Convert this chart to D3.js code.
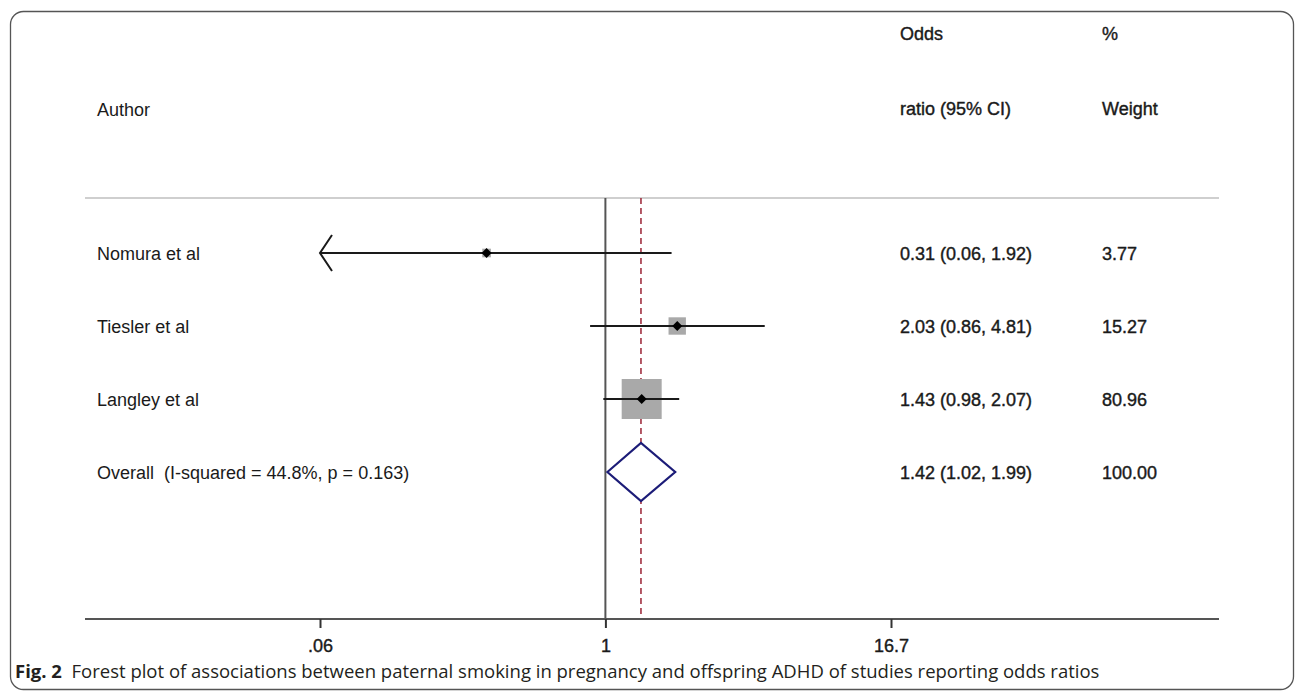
<!DOCTYPE html>
<html>
<head>
<meta charset="utf-8">
<script src="https://cdn.jsdelivr.net/npm/d3@7"></script>
<style>
  html, body { margin: 0; padding: 0; background: #fff; }
  svg { display: block; }
</style>
</head>
<body>
<div id="chart"></div>
<script>
// study rows
const studies = ["Nomura et al", "Tiesler et al", "Langley et al"];
const estimates = [0.31, 2.03, 1.43];
const lowerCI = [0.06, 0.86, 0.98];
const upperCI = [1.92, 4.81, 2.07];
const weights = [3.77, 15.27, 80.96];
const ciLabels = ["0.31 (0.06, 1.92)", "2.03 (0.86, 4.81)", "1.43 (0.98, 2.07)"];
const weightLabels = ["3.77", "15.27", "80.96"];

// pooled estimate
const overallLabel = "Overall  (I-squared = 44.8%, p = 0.163)";
const overall = { est: 1.42, lo: 1.02, hi: 1.99 };
const overallCI = "1.42 (1.02, 1.99)";
const overallWeight = "100.00";

// axis
const tickValues = [0.06, 1, 16.7];
const tickLabels = [".06", "1", "16.7"];

const W = 1295, H = 691;
const font = "'Liberation Sans', Arial, Helvetica, sans-serif";
const ink = "#1a1a1a";

const svg = d3.select("#chart").append("svg")
  .attr("width", W)
  .attr("height", H);

// outer frame
svg.append("rect")
  .attr("x", 10.5).attr("y", 11.5)
  .attr("width", 1283).attr("height", 678)
  .attr("rx", 13)
  .attr("fill", "none")
  .attr("stroke", "#555")
  .attr("stroke-width", 1.3);

//scales
const x = d3.scaleLog().domain([0.06, 16.7]).range([320, 891]);
const y = d3.scaleLinear().domain([0, 5]).range([253, 618]);
const boxSize = d3.scaleSqrt().domain([0, d3.max(weights)]).range([0, 40]);

const plotTop = 198, axisY = 619;
const textCol = 97, ciCol = 900, wCol = 1102;

// header
const header = svg.append("g").attr("font-family", font).attr("font-size", 18).attr("fill", ink);
header.append("text").attr("x", textCol).attr("y", 116).text("Author");
header.append("text").attr("x", ciCol).attr("y", 40).text("Odds").attr("stroke", ink).attr("stroke-width", 0.4);
header.append("text").attr("x", ciCol).attr("y", 115).text("ratio (95% CI)").attr("stroke", ink).attr("stroke-width", 0.4);
header.append("text").attr("x", wCol).attr("y", 40).text("%").attr("stroke", ink).attr("stroke-width", 0.4);
header.append("text").attr("x", wCol).attr("y", 115).text("Weight").attr("stroke", ink).attr("stroke-width", 0.4);

// top rule
svg.append("line")
  .attr("x1", 85).attr("x2", 1219)
  .attr("y1", plotTop).attr("y2", plotTop)
  .attr("stroke", "#cfcfcf")
  .attr("stroke-width", 2);

// no-effect line
svg.append("line")
  .attr("x1", x(1)).attr("x2", x(1))
  .attr("y1", plotTop).attr("y2", axisY)
  .attr("stroke", "#555")
  .attr("stroke-width", 2);

// overall estimate line
svg.append("line")
  .attr("x1", x(overall.est)).attr("x2", x(overall.est))
  .attr("y1", plotTop).attr("y2", axisY)
  .attr("stroke", "#9b2335")
  .attr("stroke-width", 1.5)
  .attr("stroke-dasharray", "6,4");

const rows = studies.map((name, i) => ({
  name: name, est: estimates[i], lo: lowerCI[i], hi: upperCI[i],
  w: weights[i], ci: ciLabels[i], wl: weightLabels[i], i: i
}));

const row = svg.append("g").selectAll("g")
  .data(rows)
  .join("g")
  .attr("transform", d => `translate(0,${y(d.i)})`);

// weight boxes
row.append("rect")
  .attr("x", d => x(d.est) - boxSize(d.w) / 2)
  .attr("y", d => -boxSize(d.w) / 2)
  .attr("width", d => boxSize(d.w))
  .attr("height", d => boxSize(d.w))
  .attr("fill", "#a9a9a9");

// CI lines (clipped to axis range)
row.append("line")
  .attr("x1", d => x(Math.max(d.lo, x.domain()[0])))
  .attr("x2", d => x(Math.min(d.hi, x.domain()[1])))
  .attr("y1", 0).attr("y2", 0)
  .attr("stroke", "#1a1a1a")
  .attr("stroke-width", 2.2);

// arrow where CI reaches the edge
row.filter(d => d.lo <= x.domain()[0])
  .append("path")
  .attr("d", d => {
    const ax = x(x.domain()[0]);
    return `M${ax + 12},-18 L${ax},0 L${ax + 12},18`;
  })
  .attr("fill", "none")
  .attr("stroke", "#1a1a1a")
  .attr("stroke-width", 2);

// point estimate marker
row.append("path")
  .attr("d", d => {
    const cx = x(d.est), r = 5;
    return `M${cx - r},0 L${cx},${-r} L${cx + r},0 L${cx},${r} Z`;
  })
  .attr("fill", "#000");

row.append("text")
  .attr("x", textCol).attr("y", 7)
  .attr("font-family", font).attr("font-size", 18).attr("fill", ink)
  .text(d => d.name);

row.append("text")
  .attr("x", ciCol).attr("y", 7)
  .attr("font-family", font).attr("font-size", 18).attr("fill", ink)
  .attr("stroke", ink).attr("stroke-width", 0.4)
  .text(d => d.ci);

row.append("text")
  .attr("x", wCol).attr("y", 7)
  .attr("font-family", font).attr("font-size", 18).attr("fill", ink)
  .attr("stroke", ink).attr("stroke-width", 0.4)
  .text(d => d.wl);

// overall row
const oy = y(studies.length);
svg.append("path")
  .attr("d", `M${x(overall.lo)},${oy} L${x(overall.est)},${oy - 29} L${x(overall.hi)},${oy} L${x(overall.est)},${oy + 29} Z`)
  .attr("fill", "#fff")
  .attr("stroke", "#1c1c78")
  .attr("stroke-width", 2.2);

const og = svg.append("g").attr("font-family", font).attr("font-size", 18).attr("fill", ink);
og.append("text").attr("x", textCol).attr("y", oy + 7).attr("xml:space", "preserve").style("white-space", "pre").text(overallLabel);
og.append("text").attr("x", ciCol).attr("y", oy + 7).attr("stroke", ink).attr("stroke-width", 0.4).text(overallCI);
og.append("text").attr("x", wCol).attr("y", oy + 7).attr("stroke", ink).attr("stroke-width", 0.4).text(overallWeight);

// x axis
svg.append("line")
  .attr("x1", 85).attr("x2", 1219)
  .attr("y1", axisY).attr("y2", axisY)
  .attr("stroke", "#555")
  .attr("stroke-width", 2);

const axis = svg.append("g")
  .attr("transform", `translate(0,${axisY})`)
  .call(d3.axisBottom(x)
    .tickValues(tickValues)
    .tickFormat((d, i) => tickLabels[i])
    .tickSize(9)
    .tickPadding(11));

axis.select(".domain").remove();
axis.selectAll(".tick line").attr("stroke", "#333").attr("stroke-width", 2);
axis.selectAll(".tick text")
  .attr("font-family", font)
  .attr("font-size", 18)
  .attr("fill", ink)
  .attr("stroke", ink)
  .attr("stroke-width", 0.4);

// caption
const cap = svg.append("text")
  .attr("x", 15).attr("y", 678)
  .attr("font-family", "'Open Sans', 'Noto Sans', sans-serif")
  .attr("font-size", 18.5)
  .attr("fill", "#231f20")
  .attr("xml:space", "preserve")
  .style("white-space", "pre");
cap.append("tspan").attr("font-weight", "bold").text("Fig. 2");
cap.append("tspan").text("  Forest plot of associations between paternal smoking in pregnancy and offspring ADHD of studies reporting odds ratios");
</script>
</body>
</html>
